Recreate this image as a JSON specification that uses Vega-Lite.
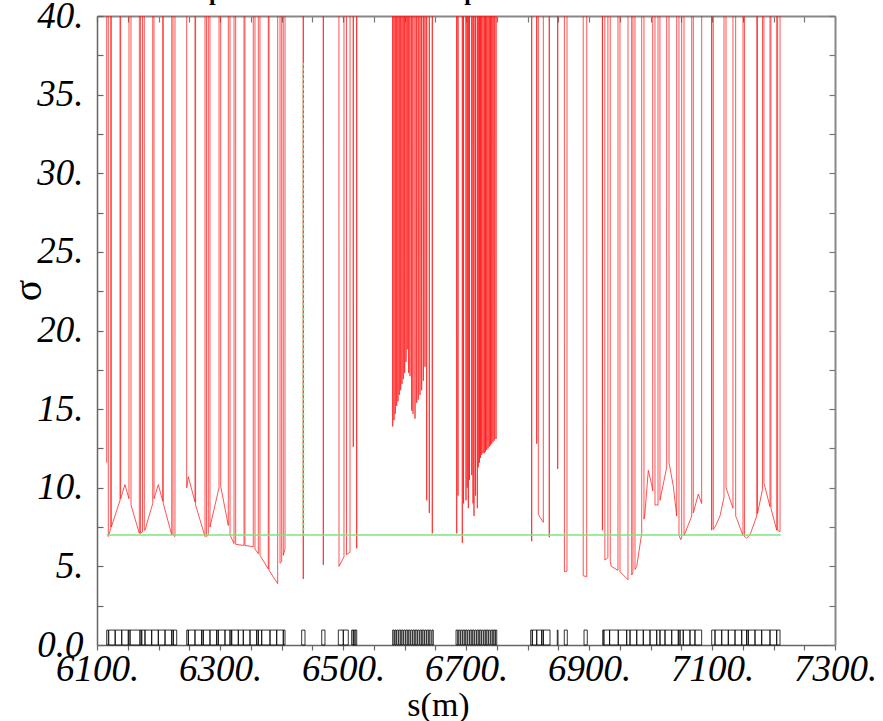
{
  "$schema": "https://vega.github.io/schema/vega-lite/v6.json",
  "width": 738,
  "height": 629,
  "autosize": {"type": "none"},
  "padding": {"left": 97, "top": 16, "right": 48, "bottom": 76},
  "background": "white",
  "config": {"view": {"stroke": null}, "axis": {"grid": false}},
  "datasets": {
    "heading": [
      {"text": "Separation of beams at the parasitic encounters IR5", "s": 6675, "v": 41.03}
    ],
    "sep": [
      {"s": 6115.8, "v": 11.6}, {"s": 6116.3, "v": 500}, {"s": 6117.9, "v": 500}, {"s": 6118.4, "v": 6.9},
      {"s": 6122.3, "v": 7.4}, {"s": 6122.6, "v": 500}, {"s": 6123.0, "v": 500}, {"s": 6123.3, "v": 7.5},
      {"s": 6137.4, "v": 9.2}, {"s": 6137.7, "v": 500}, {"s": 6138.1, "v": 500}, {"s": 6138.4, "v": 9.3},
      {"s": 6145.5, "v": 10.2}, {"s": 6152.0, "v": 9.3}, {"s": 6152.3, "v": 500}, {"s": 6155.0, "v": 500},
      {"s": 6155.3, "v": 8.9}, {"s": 6168.8, "v": 7.1}, {"s": 6169.1, "v": 500}, {"s": 6170.4, "v": 500},
      {"s": 6170.7, "v": 7.1}, {"s": 6174.0, "v": 7.2}, {"s": 6174.3, "v": 500}, {"s": 6176.6, "v": 500},
      {"s": 6176.9, "v": 7.3}, {"s": 6178.0, "v": 7.3}, {"s": 6190.6, "v": 9.0}, {"s": 6190.9, "v": 500},
      {"s": 6192.4, "v": 500}, {"s": 6192.7, "v": 9.3}, {"s": 6199.7, "v": 10.2}, {"s": 6206.8, "v": 9.15},
      {"s": 6207.1, "v": 500}, {"s": 6207.5, "v": 500}, {"s": 6207.8, "v": 9.0}, {"s": 6221.5, "v": 7.0},
      {"s": 6221.8, "v": 500}, {"s": 6223.3, "v": 500}, {"s": 6223.6, "v": 7.0}, {"s": 6226.8, "v": 6.9},
      {"s": 6227.1, "v": 500}, {"s": 6228.5, "v": 500},

      {"s": 6245.6, "v": 500}, {"s": 6245.9, "v": 10.0}, {"s": 6248.5, "v": 10.7}, {"s": 6259.3, "v": 9.1},
      {"s": 6259.6, "v": 500}, {"s": 6260.0, "v": 500}, {"s": 6260.3, "v": 8.9}, {"s": 6275.6, "v": 6.9},
      {"s": 6275.9, "v": 500}, {"s": 6277.7, "v": 500}, {"s": 6278.0, "v": 6.9}, {"s": 6281.0, "v": 7.0},
      {"s": 6281.3, "v": 500}, {"s": 6283.4, "v": 500}, {"s": 6283.7, "v": 7.5}, {"s": 6298.4, "v": 10.0},
      {"s": 6298.7, "v": 500}, {"s": 6300.8, "v": 500}, {"s": 6301.1, "v": 10.1}, {"s": 6313.5, "v": 7.6},
      {"s": 6313.8, "v": 500}, {"s": 6316.0, "v": 500}, {"s": 6316.3, "v": 7.0}, {"s": 6322.8, "v": 6.45},
      {"s": 6323.1, "v": 500}, {"s": 6325.2, "v": 500}, {"s": 6325.5, "v": 6.4}, {"s": 6339.0, "v": 6.33},
      {"s": 6339.3, "v": 500}, {"s": 6340.3, "v": 500}, {"s": 6340.6, "v": 6.33}, {"s": 6354.1, "v": 6.25},
      {"s": 6354.4, "v": 500}, {"s": 6356.6, "v": 500}, {"s": 6356.9, "v": 6.1}, {"s": 6362.3, "v": 5.8},
      {"s": 6362.6, "v": 500}, {"s": 6364.7, "v": 500}, {"s": 6365.0, "v": 5.7}, {"s": 6378.5, "v": 4.84},
      {"s": 6378.8, "v": 500}, {"s": 6379.4, "v": 500}, {"s": 6379.7, "v": 4.75}, {"s": 6393.8, "v": 3.9},
      {"s": 6394.1, "v": 500}, {"s": 6397.3, "v": 500}, {"s": 6397.6, "v": 5.2}, {"s": 6400.3, "v": 5.3},
      {"s": 6400.6, "v": 500}, {"s": 6402.6, "v": 500}, {"s": 6402.9, "v": 5.7}, {"s": 6405.7, "v": 6.15},
      {"s": 6406.0, "v": 500},

      {"s": 6433.8, "v": 500}, {"s": 6435.4, "v": 4.2}, {"s": 6437.0, "v": 500},
      {"s": 6466.3, "v": 500}, {"s": 6468.0, "v": 5.1}, {"s": 6470.2, "v": 500},
      {"s": 6491.9, "v": 500}, {"s": 6493.5, "v": 5.0}, {"s": 6501.6, "v": 5.6}, {"s": 6501.9, "v": 500},
      {"s": 6505.4, "v": 500}, {"s": 6505.7, "v": 5.75}, {"s": 6511.4, "v": 5.9}, {"s": 6511.9, "v": 500},
      {"s": 6516.1, "v": 500}, {"s": 6516.7, "v": 12.6}, {"s": 6517.3, "v": 500},
      {"s": 6521.6, "v": 500}, {"s": 6522.3, "v": 6.15}, {"s": 6523.0, "v": 500},

      {"s": 6580.4, "v": 500}, {"s": 6580.8, "v": 13.9}, {"s": 6581.2, "v": 500},
      {"s": 6582.5, "v": 500}, {"s": 6582.9, "v": 14.3}, {"s": 6583.3, "v": 500},
      {"s": 6584.6, "v": 500}, {"s": 6585.0, "v": 14.7}, {"s": 6585.4, "v": 500},
      {"s": 6586.9, "v": 500}, {"s": 6587.3, "v": 15.2}, {"s": 6587.7, "v": 500},
      {"s": 6589.0, "v": 500}, {"s": 6589.4, "v": 15.5}, {"s": 6589.8, "v": 500},
      {"s": 6591.1, "v": 500}, {"s": 6591.5, "v": 15.9}, {"s": 6591.9, "v": 500},
      {"s": 6593.4, "v": 500}, {"s": 6593.8, "v": 16.2}, {"s": 6594.2, "v": 500},
      {"s": 6595.5, "v": 500}, {"s": 6595.9, "v": 16.6}, {"s": 6596.3, "v": 500},
      {"s": 6597.6, "v": 500}, {"s": 6598.0, "v": 16.9}, {"s": 6598.4, "v": 500},
      {"s": 6599.9, "v": 500}, {"s": 6600.3, "v": 17.3}, {"s": 6600.7, "v": 500},
      {"s": 6602.1, "v": 500}, {"s": 6602.5, "v": 18.0}, {"s": 6602.9, "v": 500},
      {"s": 6604.1, "v": 500}, {"s": 6604.5, "v": 18.8}, {"s": 6604.9, "v": 500},
      {"s": 6606.4, "v": 500}, {"s": 6606.8, "v": 17.3}, {"s": 6607.2, "v": 500},
      {"s": 6608.5, "v": 500}, {"s": 6608.9, "v": 17.1}, {"s": 6609.3, "v": 500},
      {"s": 6611.3, "v": 500}, {"s": 6611.7, "v": 14.9}, {"s": 6612.1, "v": 500},
      {"s": 6613.4, "v": 500}, {"s": 6613.8, "v": 14.7}, {"s": 6614.2, "v": 500},
      {"s": 6616.7, "v": 500}, {"s": 6617.1, "v": 14.4}, {"s": 6617.5, "v": 500},
      {"s": 6619.4, "v": 500}, {"s": 6619.8, "v": 15.4}, {"s": 6620.2, "v": 500},
      {"s": 6622.0, "v": 500}, {"s": 6622.4, "v": 15.6}, {"s": 6622.8, "v": 500},
      {"s": 6624.8, "v": 500}, {"s": 6625.2, "v": 15.9}, {"s": 6625.6, "v": 500},
      {"s": 6627.5, "v": 500}, {"s": 6627.9, "v": 16.2}, {"s": 6628.3, "v": 500},
      {"s": 6630.2, "v": 500}, {"s": 6630.6, "v": 16.8}, {"s": 6631.0, "v": 500},
      {"s": 6632.9, "v": 500}, {"s": 6633.3, "v": 17.7}, {"s": 6633.7, "v": 500},
      {"s": 6635.7, "v": 500}, {"s": 6636.1, "v": 9.2}, {"s": 6636.5, "v": 500},
      {"s": 6639.9, "v": 500}, {"s": 6640.3, "v": 8.4}, {"s": 6640.7, "v": 500},
      {"s": 6644.8, "v": 500}, {"s": 6645.2, "v": 7.1}, {"s": 6645.6, "v": 500},

      {"s": 6684.5, "v": 500}, {"s": 6684.9, "v": 7.1}, {"s": 6685.3, "v": 500},
      {"s": 6686.6, "v": 500}, {"s": 6687.0, "v": 9.5}, {"s": 6687.4, "v": 500},
      {"s": 6693.6, "v": 500}, {"s": 6694.0, "v": 6.5}, {"s": 6694.4, "v": 500},
      {"s": 6695.6, "v": 500}, {"s": 6696.0, "v": 9.0}, {"s": 6696.4, "v": 500},
      {"s": 6699.6, "v": 500}, {"s": 6700.0, "v": 9.2}, {"s": 6700.4, "v": 500},
      {"s": 6701.6, "v": 500}, {"s": 6702.0, "v": 10.0}, {"s": 6702.4, "v": 500},
      {"s": 6703.4, "v": 500}, {"s": 6703.8, "v": 8.7}, {"s": 6704.2, "v": 500},
      {"s": 6705.3, "v": 500}, {"s": 6705.7, "v": 10.5}, {"s": 6706.1, "v": 500},
      {"s": 6708.9, "v": 500}, {"s": 6709.3, "v": 10.8}, {"s": 6709.7, "v": 500},
      {"s": 6711.0, "v": 500}, {"s": 6711.4, "v": 9.0}, {"s": 6711.8, "v": 500},
      {"s": 6712.6, "v": 500}, {"s": 6713.0, "v": 8.2}, {"s": 6713.4, "v": 500},
      {"s": 6715.1, "v": 500}, {"s": 6715.5, "v": 9.5}, {"s": 6715.9, "v": 500},
      {"s": 6718.0, "v": 500}, {"s": 6718.4, "v": 8.7}, {"s": 6718.8, "v": 500},
      {"s": 6719.6, "v": 500}, {"s": 6720.0, "v": 11.3}, {"s": 6720.4, "v": 500},
      {"s": 6721.6, "v": 500}, {"s": 6722.0, "v": 11.6}, {"s": 6722.4, "v": 500},
      {"s": 6723.2, "v": 500}, {"s": 6723.6, "v": 11.9}, {"s": 6724.0, "v": 500},
      {"s": 6725.1, "v": 500}, {"s": 6725.5, "v": 12.1}, {"s": 6725.9, "v": 500},
      {"s": 6727.3, "v": 500}, {"s": 6727.7, "v": 12.2}, {"s": 6728.1, "v": 500},
      {"s": 6729.4, "v": 500}, {"s": 6729.8, "v": 12.2}, {"s": 6730.2, "v": 500},
      {"s": 6731.3, "v": 500}, {"s": 6731.7, "v": 12.3}, {"s": 6732.1, "v": 500},
      {"s": 6733.3, "v": 500}, {"s": 6733.7, "v": 12.4}, {"s": 6734.1, "v": 500},
      {"s": 6735.4, "v": 500}, {"s": 6735.8, "v": 12.5}, {"s": 6736.2, "v": 500},
      {"s": 6737.5, "v": 500}, {"s": 6737.9, "v": 12.6}, {"s": 6738.3, "v": 500},
      {"s": 6739.5, "v": 500}, {"s": 6739.9, "v": 12.7}, {"s": 6740.3, "v": 500},
      {"s": 6741.4, "v": 500}, {"s": 6741.8, "v": 12.8}, {"s": 6742.2, "v": 500},
      {"s": 6743.5, "v": 500}, {"s": 6743.9, "v": 12.9}, {"s": 6744.3, "v": 500},
      {"s": 6745.6, "v": 500}, {"s": 6746.0, "v": 13.0}, {"s": 6746.4, "v": 500},
      {"s": 6748.4, "v": 500}, {"s": 6748.8, "v": 13.1}, {"s": 6749.2, "v": 500},

      {"s": 6806.4, "v": 500}, {"s": 6806.8, "v": 6.6}, {"s": 6807.2, "v": 500},
      {"s": 6814.6, "v": 500}, {"s": 6815.0, "v": 12.8}, {"s": 6815.4, "v": 500},
      {"s": 6817.1, "v": 500}, {"s": 6817.6, "v": 8.3}, {"s": 6825.7, "v": 7.8}, {"s": 6826.0, "v": 500},
      {"s": 6834.6, "v": 500}, {"s": 6835.4, "v": 6.85}, {"s": 6836.0, "v": 500},
      {"s": 6848.7, "v": 500}, {"s": 6849.1, "v": 11.2}, {"s": 6849.5, "v": 500},
      {"s": 6859.6, "v": 500}, {"s": 6860.0, "v": 4.66}, {"s": 6864.2, "v": 4.7}, {"s": 6864.6, "v": 500},
      {"s": 6890.2, "v": 500}, {"s": 6890.6, "v": 4.4}, {"s": 6896.3, "v": 4.35}, {"s": 6896.7, "v": 500},

      {"s": 6921.1, "v": 500}, {"s": 6921.8, "v": 7.3}, {"s": 6922.4, "v": 500}, {"s": 6925.4, "v": 500},
      {"s": 6925.8, "v": 5.4}, {"s": 6930.7, "v": 5.55}, {"s": 6931.2, "v": 500}, {"s": 6934.1, "v": 500},
      {"s": 6934.6, "v": 5.3}, {"s": 6936.2, "v": 5.0}, {"s": 6947.1, "v": 4.75}, {"s": 6947.6, "v": 500},
      {"s": 6949.9, "v": 500}, {"s": 6950.4, "v": 4.66}, {"s": 6963.4, "v": 4.15}, {"s": 6963.9, "v": 500},
      {"s": 6969.1, "v": 500}, {"s": 6969.4, "v": 4.45}, {"s": 6971.5, "v": 4.6}, {"s": 6972.0, "v": 500},
      {"s": 6974.3, "v": 500}, {"s": 6974.8, "v": 4.8}, {"s": 6977.6, "v": 5.0}, {"s": 6985.7, "v": 7.1},
      {"s": 6986.2, "v": 500}, {"s": 6988.9, "v": 500}, {"s": 6989.4, "v": 8.0}, {"s": 6991.0, "v": 8.4},
      {"s": 6996.4, "v": 11.1}, {"s": 7001.9, "v": 10.2}, {"s": 7003.6, "v": 9.8}, {"s": 7004.1, "v": 500},
      {"s": 7006.8, "v": 500}, {"s": 7007.3, "v": 8.9}, {"s": 7012.2, "v": 8.9}, {"s": 7012.7, "v": 500},
      {"s": 7014.9, "v": 500}, {"s": 7015.4, "v": 9.2}, {"s": 7026.3, "v": 11.3}, {"s": 7026.8, "v": 500},
      {"s": 7029.6, "v": 500}, {"s": 7030.1, "v": 11.6}, {"s": 7037.1, "v": 10.1}, {"s": 7042.6, "v": 8.2},
      {"s": 7043.1, "v": 500}, {"s": 7045.8, "v": 500}, {"s": 7046.3, "v": 7.0}, {"s": 7049.1, "v": 6.7},
      {"s": 7050.7, "v": 6.8}, {"s": 7051.2, "v": 500}, {"s": 7054.0, "v": 500}, {"s": 7054.5, "v": 6.95},
      {"s": 7067.0, "v": 8.2}, {"s": 7067.5, "v": 500}, {"s": 7069.1, "v": 500}, {"s": 7069.6, "v": 8.4},
      {"s": 7077.7, "v": 9.6}, {"s": 7083.2, "v": 9.0}, {"s": 7083.7, "v": 500}, {"s": 7085.4, "v": 500},

      {"s": 7099.0, "v": 500}, {"s": 7099.5, "v": 7.3}, {"s": 7100.0, "v": 500}, {"s": 7101.6, "v": 500},
      {"s": 7102.1, "v": 7.35}, {"s": 7104.9, "v": 7.5}, {"s": 7113.0, "v": 8.2}, {"s": 7119.5, "v": 9.4},
      {"s": 7120.0, "v": 500}, {"s": 7122.3, "v": 500}, {"s": 7122.8, "v": 10.0}, {"s": 7134.1, "v": 8.7},
      {"s": 7134.6, "v": 500}, {"s": 7138.0, "v": 500}, {"s": 7138.5, "v": 8.2}, {"s": 7140.1, "v": 8.05},
      {"s": 7150.4, "v": 6.95}, {"s": 7150.9, "v": 500}, {"s": 7152.3, "v": 500}, {"s": 7152.8, "v": 6.9},
      {"s": 7156.4, "v": 6.8}, {"s": 7161.8, "v": 7.0}, {"s": 7172.7, "v": 8.2}, {"s": 7173.2, "v": 500},
      {"s": 7173.6, "v": 500}, {"s": 7174.0, "v": 8.35}, {"s": 7182.1, "v": 9.9}, {"s": 7182.6, "v": 500},
      {"s": 7183.6, "v": 500}, {"s": 7184.5, "v": 10.3}, {"s": 7194.3, "v": 8.8}, {"s": 7194.8, "v": 500},
      {"s": 7195.3, "v": 500}, {"s": 7195.8, "v": 8.7}, {"s": 7205.2, "v": 7.3}, {"s": 7205.7, "v": 500},
      {"s": 7206.2, "v": 500}, {"s": 7206.7, "v": 7.3}, {"s": 7210.6, "v": 7.2}, {"s": 7211.1, "v": 500}
    ],
    "limit": [
      {"s": 6115.8, "v": 7.0, "part": "level"},
      {"s": 7211.7, "v": 7.0, "part": "level"},
      {"s": 6434.9, "v": 7.0, "part": "spike"},
      {"s": 6435.4, "v": 37.1, "part": "spike"},
      {"s": 6435.9, "v": 7.0, "part": "spike"}
    ],
    "elements": [
      {"a": 6115.8, "b": 6118.4}, {"a": 6119.2, "b": 6129.3}, {"a": 6129.8, "b": 6140.2}, {"a": 6140.2, "b": 6150.9},
      {"a": 6150.9, "b": 6153.7}, {"a": 6153.7, "b": 6169.9}, {"a": 6169.9, "b": 6172.7}, {"a": 6172.7, "b": 6178.0},
      {"a": 6178.0, "b": 6188.9}, {"a": 6188.9, "b": 6199.7}, {"a": 6199.7, "b": 6210.6}, {"a": 6210.6, "b": 6221.5},
      {"a": 6221.5, "b": 6224.1}, {"a": 6224.1, "b": 6229.6},
      {"a": 6245.9, "b": 6248.5}, {"a": 6248.5, "b": 6259.3}, {"a": 6259.3, "b": 6270.2}, {"a": 6270.2, "b": 6272.8},
      {"a": 6272.8, "b": 6283.7}, {"a": 6283.7, "b": 6294.6}, {"a": 6294.6, "b": 6297.2}, {"a": 6297.2, "b": 6308.1},
      {"a": 6308.1, "b": 6316.3}, {"a": 6316.3, "b": 6319.0}, {"a": 6319.0, "b": 6329.8}, {"a": 6329.8, "b": 6337.9},
      {"a": 6337.9, "b": 6348.8}, {"a": 6348.8, "b": 6359.7}, {"a": 6359.7, "b": 6362.3}, {"a": 6362.3, "b": 6367.8},
      {"a": 6367.8, "b": 6381.3}, {"a": 6381.3, "b": 6392.2}, {"a": 6392.2, "b": 6402.9}, {"a": 6402.9, "b": 6405.7},
      {"a": 6432.8, "b": 6438.2}, {"a": 6465.4, "b": 6470.7}, {"a": 6492.4, "b": 6500.5}, {"a": 6500.5, "b": 6508.6},
      {"a": 6514.1, "b": 6516.7}, {"a": 6516.7, "b": 6519.5}, {"a": 6519.5, "b": 6522.3},
      {"a": 6580.8, "b": 6582.9}, {"a": 6584.1, "b": 6586.2}, {"a": 6587.3, "b": 6589.9}, {"a": 6591.0, "b": 6593.8},
      {"a": 6594.8, "b": 6597.5}, {"a": 6598.7, "b": 6601.3}, {"a": 6602.4, "b": 6605.2}, {"a": 6606.2, "b": 6608.9},
      {"a": 6610.1, "b": 6612.7}, {"a": 6613.8, "b": 6616.6}, {"a": 6617.5, "b": 6620.3}, {"a": 6621.4, "b": 6624.0},
      {"a": 6625.2, "b": 6627.9}, {"a": 6628.9, "b": 6631.7}, {"a": 6632.8, "b": 6635.4}, {"a": 6636.5, "b": 6639.3},
      {"a": 6640.3, "b": 6643.1}, {"a": 6644.7, "b": 6646.8},
      {"a": 6683.8, "b": 6686.5}, {"a": 6687.5, "b": 6690.3}, {"a": 6691.4, "b": 6694.0}, {"a": 6695.1, "b": 6697.9},
      {"a": 6698.9, "b": 6701.6}, {"a": 6702.8, "b": 6705.4}, {"a": 6706.5, "b": 6709.3}, {"a": 6710.3, "b": 6713.0},
      {"a": 6714.2, "b": 6716.8}, {"a": 6717.9, "b": 6720.7}, {"a": 6721.7, "b": 6724.4}, {"a": 6725.5, "b": 6728.1},
      {"a": 6729.3, "b": 6732.0}, {"a": 6733.0, "b": 6735.8}, {"a": 6736.9, "b": 6739.5}, {"a": 6740.7, "b": 6743.4},
      {"a": 6744.4, "b": 6747.2}, {"a": 6747.7, "b": 6750.0},
      {"a": 6805.2, "b": 6807.8}, {"a": 6807.8, "b": 6815.0}, {"a": 6815.0, "b": 6823.1}, {"a": 6823.1, "b": 6825.7},
      {"a": 6825.7, "b": 6836.6}, {"a": 6848.4, "b": 6849.6}, {"a": 6859.8, "b": 6864.7}, {"a": 6891.9, "b": 6897.2},
      {"a": 6922.3, "b": 6924.2}, {"a": 6924.2, "b": 6933.5}, {"a": 6933.5, "b": 6947.6}, {"a": 6947.6, "b": 6961.3},
      {"a": 6961.3, "b": 6966.7}, {"a": 6966.7, "b": 6977.6}, {"a": 6977.6, "b": 6988.3}, {"a": 6988.3, "b": 6999.2},
      {"a": 6999.2, "b": 7010.1}, {"a": 7010.1, "b": 7015.4}, {"a": 7015.4, "b": 7023.6}, {"a": 7023.6, "b": 7034.5},
      {"a": 7034.5, "b": 7045.2}, {"a": 7045.2, "b": 7048.0}, {"a": 7048.0, "b": 7053.3}, {"a": 7053.3, "b": 7064.2},
      {"a": 7064.2, "b": 7072.3}, {"a": 7072.3, "b": 7083.2},
      {"a": 7099.5, "b": 7104.9}, {"a": 7104.9, "b": 7115.8}, {"a": 7115.8, "b": 7126.5}, {"a": 7126.5, "b": 7137.4},
      {"a": 7137.4, "b": 7148.3}, {"a": 7148.3, "b": 7156.4}, {"a": 7156.4, "b": 7159.0}, {"a": 7159.0, "b": 7169.9},
      {"a": 7169.9, "b": 7180.8}, {"a": 7180.8, "b": 7194.3}, {"a": 7194.3, "b": 7205.2}, {"a": 7205.2, "b": 7210.6}
    ]
  },
  "layer": [
    {
      "data": {"name": "elements"},
      "mark": {"type": "rect", "fillOpacity": 0, "stroke": "black", "strokeWidth": 0.8},
      "encoding": {
        "x": {
          "field": "a", "type": "quantitative",
          "scale": {"domain": [6100, 7300], "nice": false, "zero": false},
          "axis": {
            "orient": "top", "title": null, "labels": false,
            "values": [6100, 6150, 6200, 6250, 6300, 6350, 6400, 6450, 6500, 6550, 6600, 6650, 6700, 6750, 6800, 6850, 6900, 6950, 7000, 7050, 7100, 7150, 7200, 7250, 7300],
            "tickSize": -6, "tickColor": "#777", "tickWidth": 1.2,
            "domainColor": "#888", "domainWidth": 2
          }
        },
        "x2": {"field": "b"},
        "y": {
          "datum": 0, "type": "quantitative",
          "scale": {"domain": [0, 40], "nice": false, "zero": false},
          "axis": {
            "orient": "right", "title": null, "labels": false,
            "values": [0, 2.5, 5, 7.5, 10, 12.5, 15, 17.5, 20, 22.5, 25, 27.5, 30, 32.5, 35, 37.5, 40],
            "tickSize": -6, "tickColor": "#777", "tickWidth": 1.2,
            "domainColor": "#888", "domainWidth": 2
          }
        },
        "y2": {"datum": 0.95}
      }
    },
    {
      "data": {"name": "sep"},
      "mark": {"type": "line", "clip": true, "color": "#ff1a1a", "opacity": 0.75, "strokeWidth": 1, "strokeJoin": "miter", "strokeMiterLimit": 1000},
      "encoding": {
        "x": {
          "field": "s", "type": "quantitative",
          "scale": {"domain": [6100, 7300], "nice": false, "zero": false},
          "axis": {
            "orient": "bottom",
            "values": [6100, 6150, 6200, 6250, 6300, 6350, 6400, 6450, 6500, 6550, 6600, 6650, 6700, 6750, 6800, 6850, 6900, 6950, 7000, 7050, 7100, 7150, 7200, 7250, 7300],
            "labelExpr": "(datum.value - 6100) % 200 == 0 ? datum.value + '.' : ''",
            "labelFont": "Liberation Serif", "labelFontStyle": "italic", "labelFontSize": 37,
            "labelColor": "black", "labelPadding": 1, "labelOverlap": false, "labelFlush": false,
            "tickSize": 5, "tickColor": "#666", "tickWidth": 1.2,
            "domainColor": "#666", "domainWidth": 1.5,
            "title": "s(m)", "titleFont": "Liberation Serif", "titleFontSize": 34,
            "titleFontWeight": "normal", "titleColor": "black",
            "titleX": 341, "titleY": 60, "titleBaseline": "middle", "titleAlign": "center"
          }
        },
        "y": {
          "field": "v", "type": "quantitative",
          "scale": {"domain": [0, 40], "nice": false, "zero": false},
          "axis": {
            "orient": "left",
            "values": [0, 2.5, 5, 7.5, 10, 12.5, 15, 17.5, 20, 22.5, 25, 27.5, 30, 32.5, 35, 37.5, 40],
            "labelExpr": "datum.value % 5 == 0 ? (datum.value == 0 ? '0.0' : datum.value + '.') : ''",
            "labelFont": "Liberation Serif", "labelFontStyle": "italic", "labelFontSize": 37,
            "labelColor": "black", "labelPadding": 20, "labelOverlap": false, "labelFlush": false,
            "labelBaseline": "middle",
            "tickSize": -6, "tickColor": "#666", "tickWidth": 1.2,
            "domainColor": "#666", "domainWidth": 1.5,
            "title": "σ", "titleFont": "Liberation Serif", "titleFontSize": 40,
            "titleFontWeight": "normal", "titleColor": "black",
            "titleX": -69, "titleY": 274, "titleBaseline": "middle", "titleAlign": "center"
          }
        }
      }
    },
    {
      "data": {"name": "limit"},
      "mark": {"type": "line", "clip": true, "color": "#7ee67e", "strokeWidth": 1.6},
      "encoding": {
        "x": {"field": "s", "type": "quantitative", "scale": {"domain": [6100, 7300], "nice": false, "zero": false}, "axis": null},
        "y": {"field": "v", "type": "quantitative", "scale": {"domain": [0, 40], "nice": false, "zero": false}, "axis": null},
        "detail": {"field": "part"},
        "strokeDash": {
          "field": "part", "type": "nominal",
          "scale": {"domain": ["level", "spike"], "range": [[1, 0], [2, 3]]},
          "legend": null
        }
      }
    },
    {
      "data": {"name": "heading"},
      "mark": {"type": "text", "font": "Liberation Serif", "fontSize": 24, "fontWeight": "bold", "color": "black", "align": "center", "baseline": "alphabetic"},
      "encoding": {
        "x": {"field": "s", "type": "quantitative", "scale": {"domain": [6100, 7300], "nice": false, "zero": false}, "axis": null},
        "y": {"field": "v", "type": "quantitative", "scale": {"domain": [0, 40], "nice": false, "zero": false}, "axis": null},
        "text": {"field": "text"}
      }
    }
  ],
  "resolve": {"axis": {"x": "independent", "y": "independent"}}
}
